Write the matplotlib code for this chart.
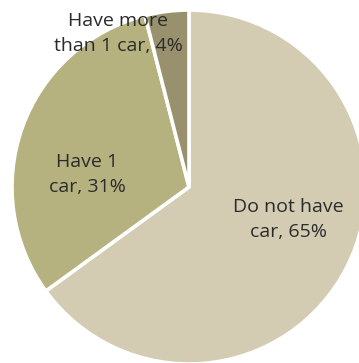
import matplotlib
matplotlib.use('Agg')
import matplotlib.pyplot as plt

# car ownership shares (%)
labels = ['Do not have\ncar, 65%', 'Have 1\ncar, 31%', 'Have more\nthan 1 car, 4%']
shares = [65, 31, 4]
colors = ['#D3CCB3', '#B5B27F', '#99916E']

plt.rcParams['font.family'] = ['Open Sans', 'DejaVu Sans']

fig = plt.figure(figsize=(3.59, 3.63), dpi=100)
ax = fig.add_axes([0, 0, 1, 1])

# pie centre at pixel (189, 187), radius 177 px
r_px = 177.0
cx, cy = 189.0, 187.0
ax.pie(shares, colors=colors, startangle=90, counterclock=False, radius=1.0,
       wedgeprops=dict(edgecolor='white', linewidth=2.6))
ax.set_xlim(-cx / r_px, (359 - cx) / r_px)
ax.set_ylim(-(363 - cy) / r_px, cy / r_px)
ax.set_aspect('auto')
ax.axis('off')

txt = dict(ha='center', va='center', fontsize=14, color='#2b2b2b', linespacing=1.5)
ax.text(0.56, -0.186, labels[0], **txt)
ax.text(-0.576, 0.068, labels[1], **txt)
ax.text(-0.40, 0.87, labels[2], **txt)

fig.savefig('out.png', dpi=100)
